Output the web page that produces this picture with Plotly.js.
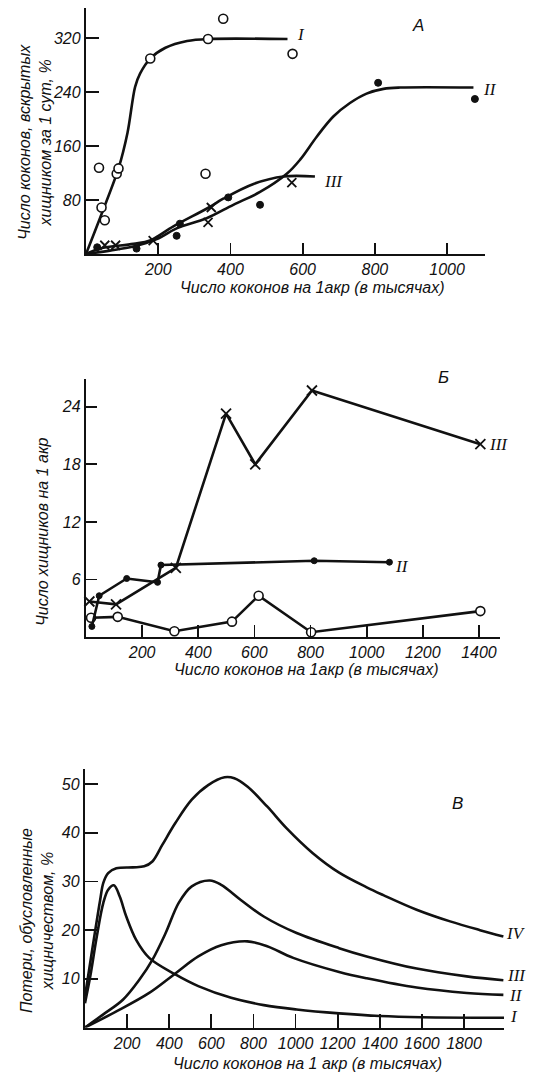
<!DOCTYPE html>
<html>
<head>
<meta charset="utf-8">
<script src="https://cdn.plot.ly/plotly-3.0.1.min.js"></script>
<style>html,body{margin:0;padding:0;background:#fff;}#chart{width:535px;height:1076px;}</style>
</head>
<body>
<div id="chart"></div>
<script>
// ---------- Panel A: cocoons opened per predator per day ----------
var aCurveIx = [0, 45, 90, 115, 136, 150, 178, 220, 280, 338, 558];
var aCurveIy = [0, 62, 127, 180, 248, 268, 290, 306, 316, 319, 319];
var aCurveIIx = [0, 66, 131, 196, 251, 334, 408, 482, 556, 593, 639, 685, 731, 777, 824, 870, 1073];
var aCurveIIy = [0, 5, 11, 22, 38, 53, 73, 92, 119, 140, 174, 204, 224, 238, 245, 247, 247];
var aCurveIIIx = [0, 39, 131, 177, 242, 340, 380, 464, 547, 634];
var aCurveIIIy = [0, 8, 15, 20, 41, 69, 82, 104, 115, 115];
var aPtsIx = [36, 43, 52, 85, 90, 178, 331, 338, 380, 572];
var aPtsIy = [128, 69, 50, 119, 127, 290, 119, 319, 349, 297];
var aPtsIIx = [31, 140, 251, 260, 394, 482, 809, 1077];
var aPtsIIy = [10, 8, 27, 45, 84, 73, 254, 230];
var aPtsIIIx = [52, 82, 186, 338, 347, 570];
var aPtsIIIy = [13, 13, 20, 47, 69, 106];
var aXTicks = [200, 400, 600, 800, 1000];
var aYTicks = [80, 160, 240, 320];

// ---------- Panel Б: predators per acre ----------
var bIx = [18, 113, 315, 520, 615, 802, 1405];
var bIy = [2.0, 2.1, 0.6, 1.6, 4.3, 0.5, 2.7];
var bIIx = [21, 47, 145, 255, 267, 813, 1081];
var bIIy = [1.1, 4.3, 6.1, 5.7, 7.5, 7.95, 7.8];
var bIIIx = [12, 107, 320, 499, 603, 805, 1405];
var bIIIy = [3.7, 3.4, 7.2, 23.3, 18.0, 25.7, 20.1];
var bXTicks = [200, 400, 600, 800, 1000, 1200, 1400];
var bYTicks = [6, 12, 18, 24];

// ---------- Panel В: losses due to predation, % ----------
var cIx = [0, 25, 56, 87, 110, 137, 165, 196, 243, 305, 429, 538, 694, 849, 1005, 1207, 1400, 1600, 1990];
var cIy = [5, 10.5, 18.7, 25.6, 28.3, 29.2, 26.9, 22.8, 18, 14.3, 10.9, 8.5, 6.1, 4.6, 3.7, 2.9, 2.35, 2.1, 2.0];
var cIIx = [0, 149, 305, 429, 538, 647, 771, 865, 989, 1207, 1338, 1575, 1813, 1987];
var cIIy = [0, 3.3, 7.1, 11.1, 14.6, 16.9, 17.7, 16.7, 14.3, 11.4, 10.1, 8.2, 7.1, 6.7];
var cIIIx = [0, 87, 180, 258, 320, 383, 445, 507, 593, 647, 740, 849, 1005, 1207, 1338, 1575, 1813, 1987];
var cIIIy = [0, 2.7, 5.7, 9.8, 13.9, 19.4, 25.6, 29, 30.2, 29.3, 26.2, 22.8, 19.4, 16.3, 14.6, 12.1, 10.5, 9.7];
var cIVx = [0, 72, 87, 110, 149, 227, 281, 320, 367, 429, 507, 585, 663, 709, 771, 865, 958, 1082, 1207, 1338, 1417, 1575, 1734, 1876, 1987];
var cIVy = [6.4, 26.2, 29.7, 31.7, 32.7, 32.9, 33.1, 34.1, 37.5, 42, 46.8, 49.8, 51.4, 51.2, 49.5, 45.4, 40.9, 35.8, 31.8, 28.8, 27.2, 24.2, 21.8, 20.0, 18.7];
var cXTicks = [200, 400, 600, 800, 1000, 1200, 1400, 1600, 1800];
var cYTicks = [10, 20, 30, 40, 50];

var W = 535, H = 1076;
function px(x) { return x / W; }
function py(y) { return 1 - y / H; }

var SANS = 'Liberation Sans Narrow, Liberation Sans, Arial, sans-serif';
var SERIF = 'Liberation Serif, DejaVu Serif, serif';
var tickFont = {family: SANS, size: 16, color: '#111', style: 'italic'};
var titleFont = {family: SANS, size: 16, color: '#111', style: 'italic'};
var numFont = {family: SERIF, size: 17, color: '#111', style: 'italic'};
var panelFont = {family: SANS, size: 17, color: '#111', style: 'italic'};

var LW = 2.6;
function curve(x, y, xa, ya, sm) {
  return {x: x, y: y, xaxis: xa, yaxis: ya, mode: 'lines', type: 'scatter',
    line: {color: '#111', width: LW, shape: 'spline', smoothing: sm || 1}, hoverinfo: 'skip', cliponaxis: false};
}
var OPEN = {symbol: 'circle', size: 9, color: '#fff', line: {color: '#111', width: 1.6}};
var FILLED = {symbol: 'circle', size: 7, color: '#111', line: {color: '#111', width: 1}};
var CROSS = {symbol: 'x-thin-open', size: 9, color: '#111', line: {color: '#111', width: 1.8}};
function pts(x, y, xa, ya, mk) {
  return {x: x, y: y, xaxis: xa, yaxis: ya, mode: 'markers', type: 'scatter',
    marker: mk, hoverinfo: 'skip', cliponaxis: false};
}
function poly(x, y, xa, ya, mk) {
  return {x: x, y: y, xaxis: xa, yaxis: ya, mode: 'lines+markers', type: 'scatter',
    line: {color: '#111', width: LW}, marker: mk, hoverinfo: 'skip', cliponaxis: false};
}

var data = [
  curve(aCurveIx, aCurveIy, 'x', 'y', 0.9),
  curve(aCurveIIx, aCurveIIy, 'x', 'y', 1),
  curve(aCurveIIIx, aCurveIIIy, 'x', 'y', 1),
  pts(aPtsIx, aPtsIy, 'x', 'y', OPEN),
  pts(aPtsIIx, aPtsIIy, 'x', 'y', FILLED),
  pts(aPtsIIIx, aPtsIIIy, 'x', 'y', CROSS),

  poly(bIx, bIy, 'x2', 'y2', OPEN),
  poly(bIIx, bIIy, 'x2', 'y2', {symbol: 'circle', size: 6, color: '#111', line: {color: '#111', width: 1}}),
  poly(bIIIx, bIIIy, 'x2', 'y2', {symbol: 'x-thin-open', size: 10, color: '#111', line: {color: '#111', width: 1.8}}),

  curve(cIx, cIy, 'x3', 'y3', 1),
  curve(cIIx, cIIy, 'x3', 'y3', 1),
  curve(cIIIx, cIIIy, 'x3', 'y3', 1),
  curve(cIVx, cIVy, 'x3', 'y3', 1)
];

function axisDef(dom, range, ticks, anchor, tl) {
  return {domain: dom, range: range, anchor: anchor, tickvals: ticks, ticktext: ticks.map(String),
    ticks: 'inside', ticklen: tl, tickwidth: 1.8, tickcolor: '#111',
    showline: true, linecolor: '#111', linewidth: 2.2, showgrid: false, zeroline: false,
    tickfont: tickFont, fixedrange: true};
}

function ann(text, x, y, font, extra) {
  var a = {text: text, x: px(x), y: py(y), xref: 'paper', yref: 'paper', showarrow: false,
    xanchor: 'center', yanchor: 'middle', font: font};
  if (extra) for (var k in extra) a[k] = extra[k];
  return a;
}

var layout = {
  width: W, height: H, autosize: false,
  margin: {l: 0, r: 0, t: 0, b: 0, pad: 0},
  paper_bgcolor: '#fff', plot_bgcolor: 'rgba(0,0,0,0)',
  showlegend: false,
  xaxis: axisDef([86 / W, 485 / W], [0, 1105], aXTicks, 'y', 11),
  yaxis: axisDef([1 - 254 / H, 1 - 8 / H], [0, 365], aYTicks, 'x', 13),
  xaxis2: axisDef([86 / W, 500 / W], [0, 1475], bXTicks, 'y2', 12),
  yaxis2: axisDef([1 - 637 / H, 1 - 379 / H], [0, 26.9], bYTicks, 'x2', 11),
  xaxis3: axisDef([85 / W, 504 / W], [0, 1990], cXTicks, 'y3', 14),
  yaxis3: axisDef([1 - 1027.5 / H, 1 - 769 / H], [0, 53.1], cYTicks, 'x3', 13),
  annotations: [
    ann('Число коконов, вскрытых<br>хищником за 1 сут, %', 35, 142, titleFont, {textangle: -90}),
    ann('Число коконов на 1акр (в тысячах)', 312, 287, titleFont),
    ann('I', 301, 34, numFont),
    ann('II', 490, 90, numFont),
    ann('III', 333, 182, numFont),
    ann('А', 418, 25, panelFont),

    ann('Число хищников на 1 акр', 43, 532, titleFont, {textangle: -90}),
    ann('Число коконов на 1акр (в тысячах)', 306, 669, titleFont),
    ann('III', 498, 444, numFont),
    ann('II', 402, 566, numFont),
    ann('Б', 443, 377, panelFont),

    ann('Потери, обусловленные<br>хищничеством, %', 37, 921, titleFont, {textangle: -90}),
    ann('Число коконов на 1 акр (в тысячах)', 307, 1063, titleFont),
    ann('IV', 516, 933, numFont),
    ann('III', 516, 975, numFont),
    ann('II', 516, 995, numFont),
    ann('I', 514, 1016, numFont),
    ann('В', 457, 803, panelFont)
  ]
};

Plotly.newPlot('chart', data, layout, {displayModeBar: false, staticPlot: true});
</script>
</body>
</html>
